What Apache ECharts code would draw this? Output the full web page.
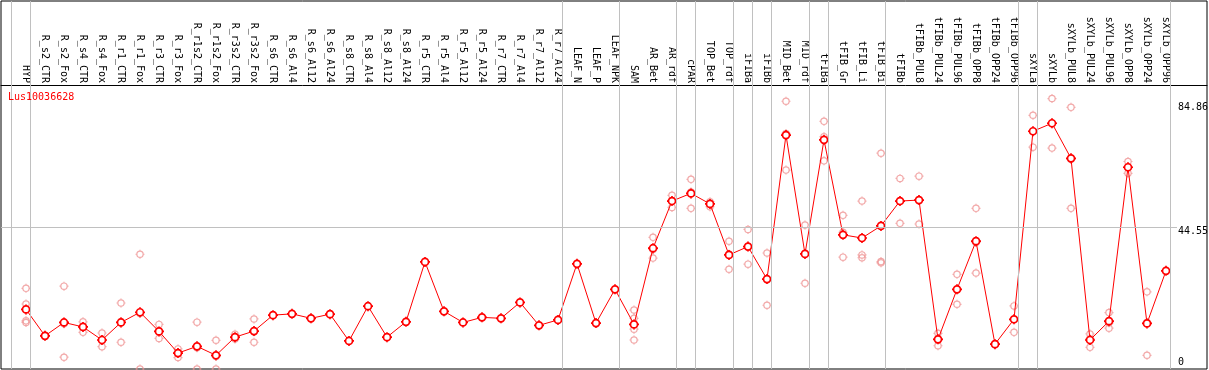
<!DOCTYPE html>
<html>
<head>
<meta charset="utf-8">
<script src="https://cdn.jsdelivr.net/npm/echarts@6/dist/echarts.min.js"></script>
<style>
html,body{margin:0;padding:0;background:#fff;}
#chart{width:1209px;height:370px;}
</style>
</head>
<body>
<div id="chart"></div>
<script>
const geneName = 'Lus10036628';
const categories = ['HYP','R_s2_CTR','R_s2_Fox','R_s4_CTR','R_s4_Fox','R_r1_CTR','R_r1_Fox','R_r3_CTR','R_r3_Fox','R_r1s2_CTR','R_r1s2_Fox','R_r3s2_CTR','R_r3s2_Fox','R_s6_CTR','R_s6_Al4','R_s6_Al12','R_s6_Al24','R_s8_CTR','R_s8_Al4','R_s8_Al12','R_s8_Al24','R_r5_CTR','R_r5_Al4','R_r5_Al12','R_r5_Al24','R_r7_CTR','R_r7_Al4','R_r7_Al12','R_r7_Al24','LEAF_N','LEAF_P','LEAF_NPK','SAM','AR_Bet','AR_rdf','cPAR','TOP_Bet','TOP_rdf','iFIBa','iFIBb','MID_Bet','MID_rdf','tFIBa','tFIB_Gr','tFIB_Li','tFIB_Bi','tFIBb','tFIBb_PUL8','tFIBb_PUL24','tFIBb_PUL96','tFIBb_OPP8','tFIBb_OPP24','tFIBb_OPP96','sXYLa','sXYLb','sXYLb_PUL8','sXYLb_PUL24','sXYLb_PUL96','sXYLb_OPP8','sXYLb_OPP24','sXYLb_OPP96'];
const meanValues = [18.7,10.4,14.6,13.2,9.1,14.6,17.8,11.8,5.0,7.1,4.3,10.0,11.9,16.9,17.3,15.9,17.2,8.8,19.7,10.0,14.8,33.6,18.1,14.6,16.2,15.9,20.9,13.7,15.4,33.0,14.4,25.0,14.0,37.9,52.7,55.1,51.8,35.8,38.4,28.2,73.4,36.1,71.9,42.1,41.1,44.9,52.7,53.0,9.3,25.0,40.1,7.8,15.6,74.6,77.1,66.1,9.1,15.0,63.3,14.3,30.8];
const replicates = [
  [25.3,20.4,15.1,14.6],[10.6,10.4,10.3],[26.0,14.2,3.7],[14.8,13.2,11.5],[11.3,9.0,7.0],
  [20.7,14.9,8.4],[36.0,17.4,0],[14.0,11.8,9.6],[6.3,5.2,3.6],[14.7,6.7,0],
  [9.0,3.9,0],[10.9,9.8,9.4],[15.7,11.7,8.4],[],[],
  [],[],[],[],[],
  [],[],[],[],[],
  [],[],[],[],[],
  [],[],[18.5,15.9,12.5,9.1],[41.3,37.5,34.8],[54.5,52.9,50.7],
  [59.5,55.5,50.4],[52.5,51.9,50.9],[40.1,36.0,31.3],[43.8,38.4,32.9],[36.4,28.1,20.0],
  [84.0,73.9,62.4],[45.2,36.2,26.9],[77.7,72.9,65.3],[48.2,42.9,35.1],[52.7,35.8,34.9],
  [67.7,33.7,33.3],[59.8,52.6,45.7],[60.5,53.1,45.5],[11.2,9.5,7.3],[29.7,25.0,20.3],
  [50.4,39.7,30.1],[7.9,7.8,7.8],[19.8,15.5,11.5],[79.6,74.6,69.6],[84.86,77.2,69.3],
  [82.1,65.8,50.4],[11.0,9.5,6.8],[17.7,14.5,12.8],[65.1,63.4,61.4],[24.2,14.6,4.3],
  []
];
const yTickValues = [0, 44.55, 84.86];
const groupEndIndices = [-1,0,28,31,34,35,37,38,39,41,42,45,52,53,60];

const meanData = meanValues.map((v, i) => [i, v]);
const repData = [];
replicates.forEach((arr, i) => arr.forEach(v => repData.push([i, v])));
const sepLines = groupEndIndices.map(k => ({ xAxis: k + 0.237 }));

const ringSymbol = 'path://M-3.5,0 A3.5,3.5 0 1,0 3.5,0 A3.5,3.5 0 1,0 -3.5,0 Z M0,-5 L0,-3.5 M0,3.5 L0,5 M-5,0 L-3.5,0 M3.5,0 L5,0';

const mono = 'DejaVu Sans Mono';
const chart = echarts.init(document.getElementById('chart'), null, { renderer: 'canvas' });
chart.setOption({
  animation: false,
  backgroundColor: '#ffffff',
  title: {
    text: geneName, left: 8, top: 92, padding: 0,
    textStyle: { color: '#ff0000', fontFamily: mono, fontSize: 10, fontWeight: 'normal' }
  },
  grid: {
    left: 1, right: 2, top: 1, bottom: 1, show: true,
    borderColor: '#000', borderWidth: 1, backgroundColor: 'transparent',
    containLabel: false, outerBoundsMode: 'none'
  },
  xAxis: {
    type: 'value', position: 'top', offset: -84,
    min: -1.3158, max: 62.158,
    axisLine: { show: true, onZero: false, lineStyle: { color: '#000', width: 1 } },
    axisTick: { show: false },
    splitLine: { show: false },
    axisLabel: {
      customValues: categories.map((c, i) => i),
      formatter: v => categories[Math.round(v)] || '',
      rotate: 90, margin: 2, color: '#000', fontFamily: mono, fontSize: 10,
      showMinLabel: true, showMaxLabel: true
    }
  },
  yAxis: {
    type: 'value', position: 'right', offset: -29,
    min: 0, max: 115.46,
    axisLine: { show: false }, axisTick: { show: false }, splitLine: { show: false },
    axisLabel: {
      customValues: yTickValues, margin: 0, color: '#000', fontFamily: mono, fontSize: 10,
      verticalAlign: 'middle', align: 'left',
      showMinLabel: true, showMaxLabel: true,
      formatter: v => v === 0 ? '{z|0}' : (v > 60 ? '{a|' + v.toFixed(2) + '}' : '{b|' + v.toFixed(2) + '}'),
      rich: {
        a: { fontFamily: mono, fontSize: 10, color: '#000', padding: [18, 0, 0, 0] },
        b: { fontFamily: mono, fontSize: 10, color: '#000', padding: [9, 0, 0, 0] },
        z: { fontFamily: mono, fontSize: 10, color: '#000', padding: [0, 0, 14, 0] }
      }
    }
  },
  series: [
    {
      type: 'line', data: [], silent: true, z: 1,
      markLine: {
        silent: true, symbol: ['none', 'none'], label: { show: false },
        lineStyle: { color: '#c0c0c0', width: 1, type: 'solid' },
        data: sepLines.concat([[{ xAxis: -1.3158, yAxis: 44.55 }, { xAxis: 60.58, yAxis: 44.55 }]])
      }
    },
    {
      type: 'scatter', data: repData, symbol: ringSymbol, symbolSize: 9, z: 2,
      itemStyle: { color: 'rgba(255,255,255,0)', borderColor: '#ef9494', borderWidth: 1.2 }
    },
    {
      type: 'line', data: meanData, symbol: ringSymbol, symbolSize: 10, z: 3,
      lineStyle: { color: '#ff0000', width: 1 },
      itemStyle: { color: '#ffffff', borderColor: '#ff0000', borderWidth: 1.7 }
    }
  ]
});
</script>
</body>
</html>
